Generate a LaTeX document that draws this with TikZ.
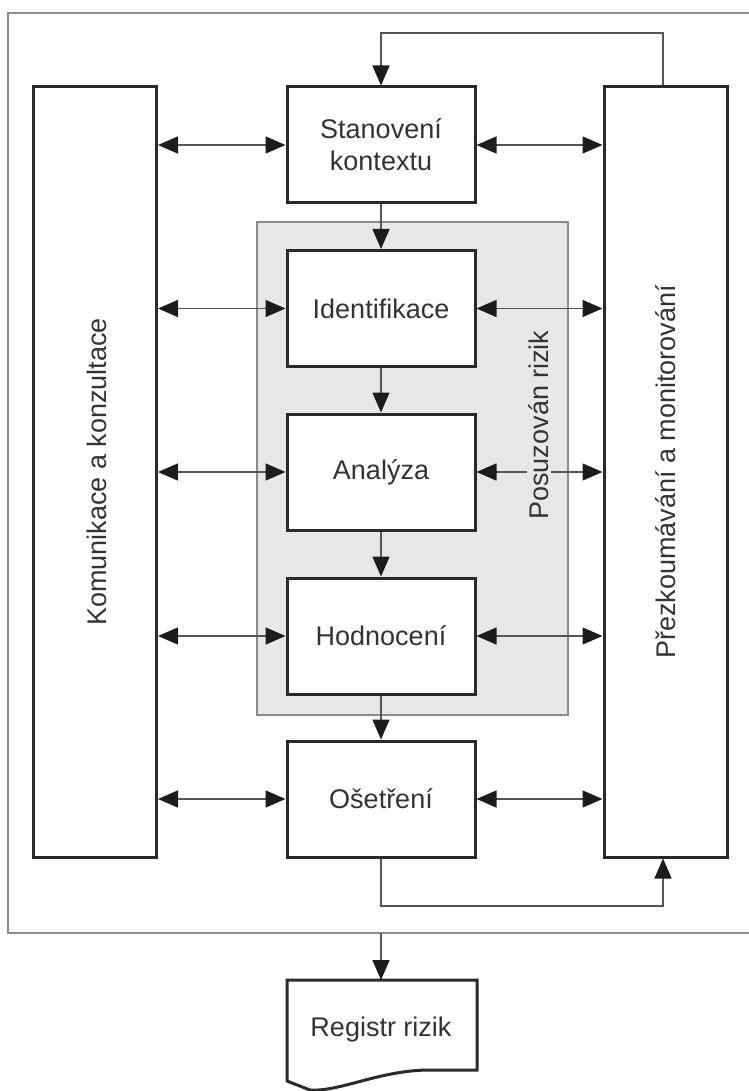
\documentclass[tikz,border=0pt]{standalone}
\usepackage{fontspec}
\setmainfont{Liberation Sans}
\usetikzlibrary{arrows.meta}
\definecolor{boxline}{HTML}{2A2A2A}
\definecolor{conn}{HTML}{555555}
\definecolor{tipc}{HTML}{1C1C1C}
\definecolor{frame}{HTML}{8A8A8A}
\definecolor{shade}{HTML}{E6E7E8}
\definecolor{txt}{HTML}{333333}
\tikzset{
  tip/.tip={Triangle[length=20pt,width=17pt,color=tipc]},
  stagebox/.style={draw=boxline, line width=3pt, fill=white, minimum width=188pt, minimum height=116pt, inner sep=0pt, font=\fontsize{27}{32}\selectfont, text=txt, align=center},
  sidebox/.style={draw=boxline, line width=3pt, fill=white, minimum width=123pt, minimum height=770pt, inner sep=0pt},
  conn/.style={draw=conn, line width=1.5pt, -tip},
  dconn/.style={draw=conn, line width=1.5pt, tip-tip},
  vlabel/.style={rotate=90, font=\fontsize{27}{32}\selectfont, text=txt}
}
\begin{document}
\begin{tikzpicture}[x=1pt,y=-1pt]
\useasboundingbox (0,0) rectangle (748,1091);
% outer frame
\draw[frame, line width=2pt] (760,13) -- (8,13) -- (8,933) -- (760,933);
% grey assessment box
\node[draw=frame, line width=1.5pt, fill=shade, minimum width=311pt, minimum height=493pt, inner sep=0pt] (grp) at (412.5,468.5) {};
% side boxes
\node[sidebox] (left) at (95,472) {};
\node[sidebox] (right) at (665.5,472) {};
\node[vlabel] (lefttext) at (97,472) {Komunikace a konzultace};
\node[vlabel] (righttext) at (right.center) {Přezkoumávání a monitorování};
% stage boxes
\node[stagebox] (ctx) at (381,145) {Stanovení\\kontextu};
\node[stagebox] (ident) at (381,308.5) {Identifikace};
\node[stagebox] (anal) at (381,472) {Analýza};
\node[stagebox] (hodn) at (381,636) {Hodnocení};
\node[stagebox] (oset) at (381,799) {Ošetření};
% register document
\coordinate (regtop) at (381,980);
\draw[boxline, line width=3pt, fill=white] (287,980) -- (477,980) -- (477,1070) -- (430,1070)
  .. controls (380,1070) and (340,1092) .. (310,1090) -- (287,1081) -- cycle;
\node[font=\fontsize{27}{32}\selectfont, text=txt] (reg) at (381,1030) {Registr rizik};
% vertical flow
\draw[conn] (ctx) -- (ident);
\draw[conn] (ident) -- (anal);
\draw[conn] (anal) -- (hodn);
\draw[conn] (hodn) -- (oset);
\coordinate (fb) at (381,933);
\draw[conn] (fb) -- (regtop);
% feedback loops
\coordinate (t1) at (663,33);
\coordinate (t2) at (381,33);
\draw[conn] (right.north -| t1) -- (t1) -- (t2) -- (ctx.north);
\coordinate (b1) at (381,906);
\coordinate (b2) at (663,906);
\draw[conn] (oset.south) -- (b1) -- (b2) -- (right.south -| b2);
% horizontal double arrows
\foreach \n in {ctx,ident,anal,hodn,oset}{
  \draw[dconn] (left.east |- \n.west) -- (\n.west);
  \draw[dconn] (\n.east) -- (right.west |- \n.east);
}
% label on grey box
\node[vlabel, fill=shade, inner sep=2pt] (posu) at (539,425) {Posuzován rizik};
\end{tikzpicture}
\end{document}
